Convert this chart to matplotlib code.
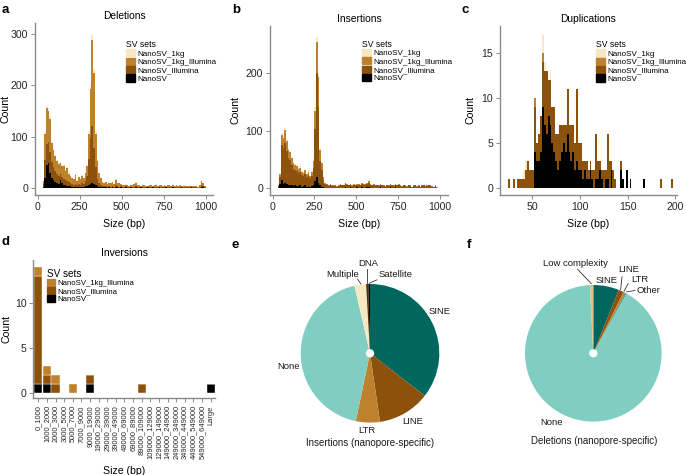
import numpy as np
import matplotlib
matplotlib.use('Agg')
import matplotlib.pyplot as plt
from matplotlib.patches import Patch

plt.rcParams['font.family'] = ['Liberation Sans', 'DejaVu Sans']

# SV set names and colours (bottom of the stack first)
sets = ['NanoSV', 'NanoSV_Illumina', 'NanoSV_1kg_Illumina', 'NanoSV_1kg']
set_colors = ['#000000', '#8c510a', '#bf812d', '#f6e8c3']

# Deletions, 10 bp bins from 30 bp
del_start, del_bw = 30, 10
del_ns = [2,20,45,48,30,20,15,12,10,8,15,10,6,5,4,3,3,2,2,2,1,2,1,2,2,3,4,6,8,10,8,5,3,2,1,1,1,
          1,0,1,0,1,0,2,1,0,1,0,0,1,0,0,1,0,0,1,0,0,1,0,0,0,1,0,0,1,0,0,0,1,0,0,0,1,0,0,0,
          1,0,0,0,0,1,0,0,0,0,0,1,0,0,0,0,0,1,1,0]
del_ill = [5,35,40,42,40,30,25,22,18,15,12,12,12,10,10,8,6,5,4,6,4,6,5,8,6,10,20,50,90,110,70,35,15,8,5,3,2,
           3,2,2,2,3,2,4,2,2,2,1,1,2,1,1,1,1,2,3,1,1,1,1,1,1,1,1,1,1,1,2,1,1,1,1,1,1,1,1,1,
           1,1,1,1,1,1,1,1,1,1,1,1,1,1,1,0,1,4,2,1]
del_kgill = [7,50,70,60,65,38,33,28,25,23,21,21,25,18,24,17,15,12,11,18,9,13,11,14,11,16,19,50,95,168,145,65,35,19,13,7,6,
             7,6,6,7,7,6,10,6,7,4,5,4,3,4,3,4,4,5,6,5,4,2,4,4,3,1,4,4,2,4,4,3,3,4,3,4,1,4,4,3,
             3,2,4,3,4,1,3,3,2,3,3,1,3,2,3,2,4,9,6,2]
del_kg = [1,5,5,5,5,2,2,3,2,2,2,2,2,2,2,2,1,1,1,2,1,1,1,1,1,1,2,4,7,10,7,5,2,1,1,1,1,
          1,0,1,0,1,0,1,1,0,0,0,0,1,0,0,0,0,1,1,0,0,0,0,1,0,0,0,1,0,0,1,0,0,1,0,0,0,1,0,0,
          1,0,0,0,1,0,0,1,0,0,1,0,0,0,1,0,1,1,1,0]

# Insertions, 10 bp bins from 30 bp
ins_start, ins_bw = 30, 10
ins_ns = [1,8,15,8,10,7,6,5,5,4,5,4,4,5,3,4,5,3,4,3,4,6,12,20,10,5,3,2,1,1,1,1,1,1,1,0,1,
          1,1,1,2,1,1,2,1,1,1,2,1,1,2,1,1,2,2,1,1,1,1,1,1,2,1,1,1,1,1,2,1,1,2,1,1,1,1,1,1,
          1,1,1,0,1,1,1,1,0,1,1,1,1,1,1,1,0,1,0,0]
ins_ill = [3,12,60,62,68,58,47,44,36,30,26,26,22,24,20,17,20,16,19,14,18,30,90,180,130,42,28,12,6,5,3,4,3,3,3,3,3,
           5,4,4,5,4,4,4,3,4,4,4,4,4,5,4,5,6,8,5,4,4,3,4,3,4,4,3,2,4,3,4,4,3,4,4,4,3,2,4,3,
           2,4,3,2,3,4,2,3,2,3,4,2,3,4,3,2,2,3,1,1]
ins_kgill = [1,4,17,17,23,17,14,13,12,9,9,8,7,7,6,6,6,5,6,4,6,11,32,54,52,19,12,5,3,2,2,2,1,2,1,1,2,
             2,1,1,2,2,1,1,1,2,1,1,2,1,2,2,2,1,3,2,1,2,1,1,1,1,1,1,1,1,1,1,1,1,1,1,2,1,1,1,1,
             1,1,1,1,1,1,1,1,1,1,1,1,1,1,1,1,1,1,1,0]
ins_kg = [0,1,3,3,4,3,3,3,2,2,2,2,2,2,1,1,1,1,1,1,2,3,6,8,8,4,2,1,0,0,0,0,0,0,0,0,0,
          0,0,1,0,0,0,1,0,0,0,1,0,0,0,0,0,1,1,0,0,0,0,0,0,0,0,0,0,0,0,0,0,0,1,0,0,0,0,0,0,
          0,0,0,0,0,0,0,0,0,0,0,0,0,0,0,0,0,0,0,0]

# Duplications, 2 bp bins from 24 bp
dup_start, dup_bw = 24, 2
dup_ns = [0,0,0,0,0,0,0,0,0,0,0,0,0,0,
          4,3,3,4,9,7,6,8,7,5,4,3,2,3,4,5,4,6,4,3,4,2,3,2,2,1,2,1,1,2,
          1,0,1,1,2,1,0,1,1,0,2,0,0,0,0,2,1,0,2,0,1,0,0,0,0,0,0,1,0,0,
          0,0,0,0,0,0,0,0,0,0,0,0,0]
dup_ill = [1,0,0,1,0,1,1,1,1,2,3,2,2,2,
           5,2,3,4,5,6,7,4,5,4,5,3,4,4,3,2,3,5,3,4,3,3,8,3,3,2,1,2,1,1,
           1,2,5,2,1,1,2,1,5,3,1,2,1,0,0,1,0,0,0,0,0,0,0,0,0,0,0,0,0,0,
           0,0,0,0,0,0,1,0,0,0,0,0,1]
dup_kgill = [0,0,0,0,0,0,0,0,0,0,0,0,0,0,1,0,0,0,1] + [0] * 68
dup_kg = [0,0,0,0,0,0,0,0,1,1,0,0,0,0,0,0,0,0,2,1,0,0,1] + [0] * 64

# Inversions by size class
inv_labels = ['0_1000', '1000_2000', '2000_3000', '3000_5000', '5000_7000', '7000_9000',
              '9000_19000', '19000_29000', '29000_39000', '39000_49000', '49000_69000',
              '69000_89000', '89000_109000', '109000_129000', '129000_149000',
              '149000_249000', '249000_349000', '349000_449000', '449000_549000',
              '549000_649000', 'Large']
inv_ns = [1,1,0,0,0,0,1,0,0,0,0,0,0,0,0,0,0,0,0,0,1]
inv_ill = [12,1,1,0,0,0,1,0,0,0,0,0,1,0,0,0,0,0,0,0,0]
inv_kgill = [1,1,1,0,1,0,0,0,0,0,0,0,0,0,0,0,0,0,0,0,0]

# Repeat annotation of nanopore-specific SVs
ins_rep = ['SINE', 'LINE', 'LTR', 'None', 'Multiple', 'DNA', 'Satellite']
ins_rep_pct = [35.5, 12.2, 5.6, 43.1, 2.7, 0.5, 0.4]
ins_rep_col = ['#01665e', '#8c510a', '#bf812d', '#80cdc1', '#f6e8c3', '#543005', '#000000']
del_rep = ['SINE', 'LINE', 'LTR', 'Other', 'None', 'Low complexity']
del_rep_pct = [6.1, 1.2, 0.5, 0.3, 91.1, 0.8]
del_rep_col = ['#01665e', '#8c510a', '#bf812d', '#35978f', '#80cdc1', '#dfc27d']

W, H = 686, 475
fig = plt.figure(figsize=(W / 100, H / 100), dpi=100)


def rect(left, top, right, bottom):
    return [left / W, 1 - bottom / H, (right - left) / W, (bottom - top) / H]


def style(ax):
    for s in ['top', 'right']:
        ax.spines[s].set_visible(False)
    for s in ['left', 'bottom']:
        ax.spines[s].set_color('#8a8a8a')
        ax.spines[s].set_linewidth(1.0)
    ax.tick_params(length=3, width=0.7, color='#8a8a8a', labelsize=7.6, labelcolor='#262626', pad=2)


def hist_panel(box, title, start, bw, layers, xlim, ylim, xticks, yticks, leg_xy, ylab_x):
    ax = fig.add_axes(rect(*box))
    n = len(layers[0])
    edges = start + bw * np.arange(n)
    bottom = np.zeros(n)
    for vals, c in zip(layers, set_colors):
        ax.bar(edges, vals, width=bw, bottom=bottom, align='edge', color=c, linewidth=0)
        bottom += np.array(vals)
    ax.set_xlim(*xlim)
    ax.set_ylim(*ylim)
    ax.set_xticks(xticks)
    ax.set_yticks(yticks)
    style(ax)
    ax.set_title(title, fontsize=7.4, pad=3)
    ax.set_xlabel('Size (bp)', fontsize=7.6)
    ax.set_ylabel('Count', fontsize=7.6)
    ax.xaxis.set_label_coords(0.5, -0.14)
    ax.yaxis.set_label_coords(ylab_x, 0.5)
    handles = [Patch(color=c, label=l) for l, c in zip(sets[::-1], set_colors[::-1])]
    leg = ax.legend(handles=handles, title='SV sets', loc='upper left', bbox_to_anchor=leg_xy,
                    frameon=False, fontsize=5.8, title_fontsize=6.2, handlelength=1.1,
                    handleheight=1.0, labelspacing=0, handletextpad=0.3, borderaxespad=0,
                    borderpad=0)
    leg._legend_box.align = 'left'
    return ax


hist_panel((35, 23, 213, 195), 'Deletions', del_start, del_bw,
           [del_ns, del_ill, del_kgill, del_kg], (-16, 1043), (-13.6, 321),
           [0, 250, 500, 750, 1000], [0, 100, 200, 300], (0.51, 0.90), -0.135)
hist_panel((270, 26, 448, 195), 'Insertions', ins_start, ins_bw,
           [ins_ns, ins_ill, ins_kgill, ins_kg], (-16, 1049), (-11.6, 281),
           [0, 250, 500, 750, 1000], [0, 100, 200], (0.517, 0.918), -0.165)
hist_panel((500, 26, 677, 195), 'Duplications', dup_start, dup_bw,
           [dup_ns, dup_ill, dup_kgill, dup_kg], (16, 201.8), (-0.74, 18.0),
           [50, 100, 150, 200], [0, 5, 10, 15], (0.543, 0.915), -0.141)

# Inversions
axd = fig.add_axes(rect(33.3, 260, 215, 398.3))
x = np.arange(len(inv_labels))
bottom = np.zeros(len(x))
for vals, c in zip([inv_ns, inv_ill, inv_kgill], set_colors[:3]):
    axd.bar(x, vals, width=0.97, bottom=bottom, color=c, edgecolor='white', linewidth=0.3)
    bottom += np.array(vals)
axd.set_xlim(-0.58, 20.5)
axd.set_ylim(-0.55, 14.8)
axd.set_xticks(x)
axd.set_xticklabels(inv_labels, rotation=90)
axd.set_yticks([0, 5, 10])
style(axd)
axd.tick_params(axis='x', labelsize=5.4)
axd.set_title('Inversions', fontsize=7.4, pad=3)
axd.set_xlabel('Size (bp)', fontsize=7.6)
axd.set_ylabel('Count', fontsize=7.6)
axd.xaxis.set_label_coords(0.5, -0.49)
axd.yaxis.set_label_coords(-0.12, 0.5)
handles = [Patch(color=c, label=l) for l, c in zip(sets[2::-1], set_colors[2::-1])]
leg = axd.legend(handles=handles, title='SV sets', loc='upper left', bbox_to_anchor=(0.075, 0.935),
                 frameon=False, fontsize=5.6, title_fontsize=7.2, handlelength=1.1,
                 handleheight=1.0, labelspacing=0, handletextpad=0.3, borderaxespad=0, borderpad=0)
leg._legend_box.align = 'left'


def pie_panel(cx, cy, r, pct, cols, labels, caption, capxy):
    s = 1.6
    ax = fig.add_axes(rect(cx - s * r, cy - s * r, cx + s * r, cy + s * r))
    ax.pie(pct, colors=cols, startangle=90, counterclock=False, radius=1,
           wedgeprops=dict(linewidth=0))
    ax.add_patch(plt.Circle((0, 0), 0.05, color='white', zorder=5))
    ax.set_xlim(-s, s)
    ax.set_ylim(-s, s)
    ax.set_aspect('equal')
    ax.axis('off')
    for txt, (tx, ty), line in labels:
        ax.text(tx, ty, txt, ha='center', va='center', fontsize=6.8, color='#1a1a1a')
        if line is not None:
            ax.plot([line[0], line[2]], [line[1], line[3]], color='#333333', lw=0.6)
    ax.text(capxy[0], capxy[1], caption, ha='center', va='center', fontsize=7, color='#1a1a1a')
    return ax


pie_panel(370, 353.3, 69.3, ins_rep_pct, ins_rep_col,
          [('SINE', (1.01, 0.60), None),
           ('LINE', (0.62, -0.99), None),
           ('LTR', (-0.05, -1.12), None),
           ('None', (-1.18, -0.19), None),
           ('Multiple', (-0.39, 1.14), (-0.18, 1.07, -0.13, 1.0)),
           ('DNA', (-0.02, 1.30), (-0.05, 1.21, -0.05, 1.01)),
           ('Satellite', (0.37, 1.14), (0.10, 1.06, -0.01, 1.01))],
          'Insertions (nanopore-specific)', (0, -1.29))
pie_panel(593.3, 353.3, 68.3, del_rep_pct, del_rep_col,
          [('Low complexity', (-0.26, 1.32), (-0.23, 1.23, -0.03, 1.02)),
           ('SINE', (0.20, 1.06), None),
           ('LINE', (0.52, 1.23), (0.42, 1.12, 0.40, 0.93)),
           ('LTR', (0.68, 1.08), (0.51, 1.02, 0.45, 0.91)),
           ('Other', (0.80, 0.92), (0.61, 0.92, 0.49, 0.90)),
           ('None', (-0.61, -1.01), None)],
          'Deletions (nanopore-specific)', (0.02, -1.28))

for letter, (lx, ly) in zip('abcdef', [(2, 10), (232, 10), (462, 10), (2, 242), (232, 245), (467, 245)]):
    fig.text(lx / W, 1 - ly / H, letter, fontsize=9.5, fontweight='bold', ha='left', va='center')

fig.savefig('out.png', dpi=100)
